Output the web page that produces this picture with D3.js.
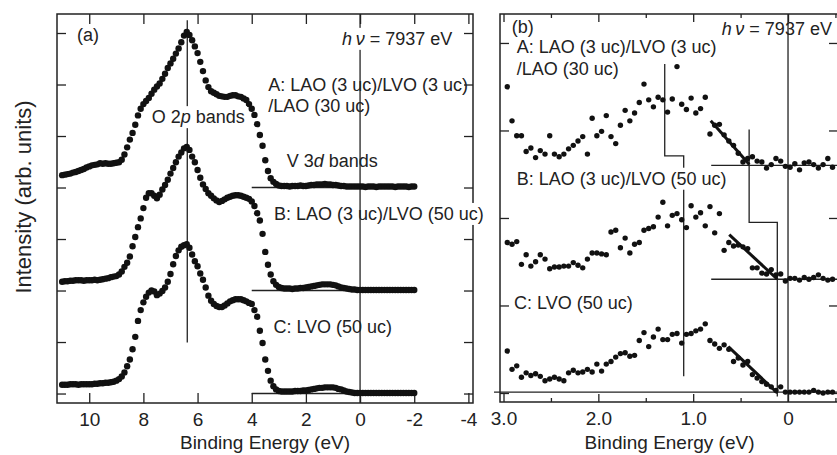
<!DOCTYPE html>
<html>
<head>
<meta charset="utf-8">
<script src="https://cdn.jsdelivr.net/npm/d3@7"></script>
<style>
body { margin: 0; background: #fff; }
text { font-family: "Liberation Sans", Arial, Helvetica, sans-serif; fill: #222; }
</style>
</head>
<body>
<script>
var width = 837, height = 455;

// ---- panel (a): wide valence band, 11.0 -> -2.0 eV, 0.1 eV steps ----
var wideStart = 11.0, wideStep = 0.1;
// A: LAO(3)/LVO(3)/LAO(30), drawn on top of offset 4
var wideA = [
  4.24,4.25,4.26,4.27,4.29,4.30,4.32,4.34,4.36,4.39,
  4.41,4.43,4.44,4.45,4.47,4.46,4.47,4.46,4.46,4.47,
  4.48,4.49,4.54,4.64,4.78,4.93,5.06,5.22,5.40,5.53,
  5.62,5.68,5.74,5.82,5.90,5.96,6.02,6.11,6.21,6.32,
  6.41,6.50,6.60,6.70,6.82,6.95,7.02,6.96,6.86,6.74,
  6.61,6.44,6.26,6.08,5.95,5.87,5.84,5.81,5.78,5.77,
  5.76,5.76,5.78,5.79,5.79,5.77,5.76,5.73,5.70,5.62,
  5.53,5.41,5.23,5.02,4.81,4.53,4.32,4.18,4.11,4.07,
  4.04,4.03,4.03,4.03,4.02,4.03,4.03,4.03,4.04,4.03,
  4.03,4.04,4.05,4.05,4.06,4.06,4.06,4.07,4.06,4.06,
  4.05,4.05,4.04,4.03,4.03,4.02,4.02,4.02,4.02,4.02,
  4.02,4.02,4.01,4.02,4.02,4.02,4.01,4.02,4.02,4.02,
  4.02,4.02,4.02,4.01,4.02,4.02,4.02,4.02,4.01,4.02,
  4.02
];
// B: LAO(3)/LVO(50), offset 2
var wideB = [
  2.17,2.18,2.18,2.19,2.19,2.20,2.20,2.20,2.19,2.20,
  2.20,2.20,2.21,2.20,2.21,2.22,2.23,2.24,2.26,2.27,
  2.28,2.31,2.37,2.46,2.54,2.66,2.86,3.04,3.23,3.40,
  3.60,3.80,3.89,3.89,3.84,3.79,3.86,3.96,4.05,4.15,
  4.27,4.38,4.49,4.60,4.68,4.76,4.79,4.73,4.60,4.49,
  4.34,4.19,4.06,3.97,3.89,3.84,3.79,3.75,3.72,3.74,
  3.77,3.80,3.82,3.84,3.85,3.85,3.84,3.82,3.80,3.78,
  3.73,3.64,3.50,3.36,3.10,2.75,2.50,2.31,2.18,2.11,
  2.07,2.05,2.04,2.04,2.04,2.03,2.04,2.04,2.05,2.05,
  2.06,2.07,2.08,2.09,2.10,2.11,2.12,2.12,2.12,2.12,
  2.11,2.10,2.08,2.06,2.05,2.04,2.03,2.02,2.02,2.01,
  2.01,2.01,2.01,2.01,2.01,2.01,2.01,2.01,2.01,2.01,
  2.01,2.01,2.01,2.01,2.01,2.01,2.01,2.01,2.01,2.01,
  2.01
];
// C: LVO(50), offset 0
var wideC = [
  0.17,0.17,0.17,0.18,0.18,0.18,0.17,0.18,0.18,0.18,
  0.18,0.18,0.19,0.19,0.20,0.20,0.21,0.21,0.22,0.23,
  0.25,0.28,0.33,0.41,0.53,0.66,0.86,1.10,1.41,1.62,
  1.77,1.88,1.96,2.00,1.98,1.91,1.94,1.99,2.06,2.17,
  2.32,2.51,2.67,2.78,2.85,2.88,2.90,2.83,2.70,2.57,
  2.47,2.33,2.21,2.06,1.90,1.80,1.74,1.70,1.68,1.68,
  1.71,1.75,1.79,1.81,1.83,1.83,1.83,1.81,1.79,1.76,
  1.74,1.62,1.49,1.22,0.98,0.66,0.44,0.25,0.14,0.08,
  0.05,0.04,0.04,0.04,0.04,0.04,0.05,0.05,0.05,0.06,
  0.06,0.07,0.08,0.09,0.10,0.11,0.11,0.12,0.12,0.12,
  0.12,0.11,0.09,0.08,0.06,0.04,0.03,0.02,0.01,0.01,
  0.01,0.01,0.01,0.01,0.01,0.01,0.01,0.01,0.01,0.01,
  0.01,0.01,0.01,0.01,0.01,0.01,0.01,0.01,0.01,0.01,
  0.01
];
var wideBaselines = [4, 2, 0];
var wideTicksX = [10, 8, 6, 4, 2, 0, -2, -4];
var wideTicksY = [0, 1, 2, 3, 4, 5, 6, 7];
var o2pEnergy = 6.38;

// ---- panel (b): near Fermi level, 70 points ----
var nearStart = 2.96, nearStep = 0.0497;
var nearA = [
  3.50,3.11,2.94,2.94,2.76,2.80,2.69,2.77,2.73,2.94,
  2.73,2.70,2.73,2.79,2.83,2.88,2.93,2.73,3.14,2.94,
  2.99,3.17,2.93,2.85,3.06,3.23,3.11,3.20,3.32,3.53,
  3.35,3.27,3.38,3.35,3.21,3.36,3.73,3.30,3.24,3.37,
  3.20,3.25,3.38,2.96,3.06,3.07,2.95,2.88,2.83,2.74,
  2.64,2.68,2.70,2.65,2.64,2.57,2.61,2.68,2.65,2.59,
  2.58,2.62,2.55,2.63,2.64,2.61,2.57,2.61,2.68,2.58
];
var nearB = [
  1.72,1.70,1.73,1.47,1.58,1.45,1.50,1.58,1.53,1.42,
  1.44,1.44,1.45,1.45,1.49,1.46,1.43,1.53,1.60,1.60,
  1.59,1.58,1.84,1.86,1.66,1.77,1.60,1.70,1.72,1.86,
  1.88,1.90,2.01,2.18,1.91,2.03,2.05,1.98,1.89,2.14,
  2.01,2.06,1.91,2.13,1.83,2.05,1.63,1.72,1.68,1.69,
  1.67,1.65,1.43,1.43,1.37,1.36,1.41,1.35,1.36,1.28,
  1.31,1.31,1.29,1.32,1.30,1.32,1.35,1.31,1.29,1.30
];
var nearC = [
  0.48,0.27,0.31,0.18,0.23,0.20,0.22,0.19,0.14,0.16,
  0.18,0.16,0.14,0.23,0.26,0.23,0.24,0.27,0.24,0.33,
  0.25,0.33,0.36,0.41,0.45,0.46,0.42,0.43,0.60,0.69,
  0.53,0.64,0.73,0.61,0.61,0.67,0.68,0.57,0.67,0.68,
  0.71,0.73,0.79,0.60,0.56,0.51,0.55,0.50,0.36,0.40,
  0.32,0.36,0.21,0.17,0.13,0.10,0.07,0.03,0.07,0.01,
  0.01,0.01,0.01,0.01,0.01,0.03,0.01,0.00,0.01,0.01
];
var nearTicksX = [3, 2, 1, 0];
var nearMinorX = [2.5, 1.5, 0.5, -0.5];
var nearTicksY = [0, 1, 2, 3, 4];
var nearBaselines = [[[0.81, 2.60], [-0.6, 2.60]], [[0.81, 1.30], [-0.6, 1.30]], [[3.1, 0.01], [-0.6, 0.01]]];
var peakStep = [[1.30, 3.76], [1.30, 2.71], [1.10, 2.71], [1.10, 0.19]];
var edgeStep = [[0.41, 3.01], [0.41, 1.95], [0.113, 1.95], [0.113, -0.04]];
var edgeFits = [[[0.815, 3.11], [0.408, 2.61]], [[0.62, 1.81], [0.113, 1.30]], [[0.63, 0.53], [0.113, 0.0]]];

var svg = d3.select("body").append("svg")
    .attr("width", width)
    .attr("height", height);

var ink = "#222";
var labelSize = 18;

function series(vals, start, step) {
  return vals.map(function(v, i) { return {e: start - step * i, v: v}; });
}

function label(g, x, y, parts, size, bg) {
  var t = g.append("text")
      .attr("x", x).attr("y", y)
      .style("font-size", size + "px");
  parts.forEach(function(p) {
    t.append("tspan").text(p[0]).style("font-style", p[1] ? "italic" : null);
  });
  if (bg) {
    var b = t.node().getBBox();
    g.insert("rect", function() { return t.node(); })
      .attr("x", b.x - 2).attr("y", b.y - 1)
      .attr("width", b.width + 4).attr("height", b.height + 2)
      .attr("fill", "#fff");
  }
  return t;
}

function frameAxes(g, x, y, major, minor, ylist, tickLen, fmt) {
  var h = y.range()[0], top = y.range()[1];
  var bottom = g.append("g").attr("transform", "translate(0," + h + ")")
      .call(d3.axisBottom(x).tickValues(major).tickSize(-tickLen).tickPadding(10).tickFormat(fmt));
  g.append("g").attr("transform", "translate(0," + top + ")")
      .call(d3.axisTop(x).tickValues(major).tickSize(-tickLen).tickFormat(""));
  if (minor) {
    g.append("g").attr("transform", "translate(0," + h + ")")
      .call(d3.axisBottom(x).tickValues(minor).tickSize(-4).tickFormat(""));
    g.append("g").attr("transform", "translate(0," + top + ")")
      .call(d3.axisTop(x).tickValues(minor).tickSize(-4).tickFormat(""));
  }
  g.append("g").attr("transform", "translate(" + x.range()[0] + ",0)")
      .call(d3.axisLeft(y).tickValues(ylist).tickSize(-9).tickFormat(""));
  g.append("g").attr("transform", "translate(" + x.range()[1] + ",0)")
      .call(d3.axisRight(y).tickValues(ylist).tickSize(-9).tickFormat(""));
  g.selectAll(".domain").remove();
  g.selectAll(".tick line").attr("stroke", ink).attr("stroke-width", 1.3);
  bottom.selectAll("text").attr("fill", ink).style("font-size", "19px")
      .style("font-family", '"Liberation Sans", Arial, sans-serif');
  g.append("rect")
    .attr("x", x.range()[0]).attr("y", top)
    .attr("width", x.range()[1] - x.range()[0]).attr("height", h - top)
    .attr("fill", "none").attr("stroke", ink).attr("stroke-width", 1.5);
}

var line = d3.line();

// ================= panel (a) =================
var xA = d3.scaleLinear().domain([11.19, -4.17]).range([57, 473]);
var yA = d3.scaleLinear().domain([-0.184, 7.369]).range([403, 14]);
var gA = svg.append("g");

frameAxes(gA, xA, yA, wideTicksX, null, wideTicksY, 10, function(d) { return String(d); });

wideBaselines.forEach(function(b) {
  gA.append("line")
    .attr("x1", xA(4)).attr("x2", xA(-2.05))
    .attr("y1", yA(b)).attr("y2", yA(b))
    .attr("stroke", ink).attr("stroke-width", 1.3);
});

label(gA, xA(3.18), yA(3.37), [["B: LAO (3 uc)/LVO (50 uc)"]], labelSize, true);

gA.append("line")
  .attr("x1", xA(0)).attr("x2", xA(0))
  .attr("y1", yA.range()[1]).attr("y2", yA.range()[0])
  .attr("stroke", ink).attr("stroke-width", 1.3);
gA.append("line")
  .attr("x1", xA(o2pEnergy)).attr("x2", xA(o2pEnergy))
  .attr("y1", yA(7.25)).attr("y2", yA(0.99))
  .attr("stroke", ink).attr("stroke-width", 1.3);

[wideA, wideB, wideC].forEach(function(vals) {
  gA.append("g").selectAll("circle")
    .data(series(vals, wideStart, wideStep))
    .enter().append("circle")
    .attr("cx", function(d) { return xA(d.e); })
    .attr("cy", function(d) { return yA(d.v); })
    .attr("r", 3.2)
    .attr("fill", "#111");
});

label(gA, xA(10.45), yA(6.84), [["(a)"]], labelSize);
label(gA, xA(0.665), yA(6.77), [["h\u2009\u03bd", true], [" = 7937 eV"]], labelSize, true);
label(gA, xA(3.39), yA(5.88), [["A: LAO (3 uc)/LVO (3 uc)"]], labelSize);
label(gA, xA(3.39), yA(5.47), [["/LAO (30 uc)"]], labelSize);
label(gA, xA(2.71), yA(4.40), [["V 3"], ["d", true], [" bands"]], labelSize);
label(gA, xA(7.69), yA(5.25), [["O 2"], ["p", true], [" bands"]], labelSize, true);
label(gA, xA(3.20), yA(1.17), [["C: LVO (50 uc)"]], labelSize);

gA.append("text")
  .attr("x", (xA.range()[0] + xA.range()[1]) / 2).attr("y", 449)
  .attr("text-anchor", "middle").style("font-size", "19px")
  .text("Binding Energy (eV)");
gA.append("text")
  .attr("transform", "translate(31,197) rotate(-90)")
  .attr("text-anchor", "middle").style("font-size", "22px")
  .text("Intensity (arb. units)");

// ================= panel (b) =================
var xB = d3.scaleLinear().domain([3.037, -0.527]).range([500, 838]);
var yB = d3.scaleLinear().domain([-0.103, 4.331]).range([402, 14]);
var gB = svg.append("g");

frameAxes(gB, xB, yB, nearTicksX, nearMinorX, nearTicksY, 8,
  function(d) { return d === 0 ? "0" : d3.format(".1f")(d); });

nearBaselines.forEach(function(seg) {
  gB.append("path")
    .attr("d", line(seg.map(function(p) { return [xB(p[0]), yB(p[1])]; })))
    .attr("fill", "none").attr("stroke", ink).attr("stroke-width", 1.3);
});
gB.append("line")
  .attr("x1", xB(0)).attr("x2", xB(0))
  .attr("y1", yB.range()[1]).attr("y2", yB.range()[0])
  .attr("stroke", ink).attr("stroke-width", 1.3);
[peakStep, edgeStep].forEach(function(seg) {
  gB.append("path")
    .attr("d", line(seg.map(function(p) { return [xB(p[0]), yB(p[1])]; })))
    .attr("fill", "none").attr("stroke", ink).attr("stroke-width", 1.3);
});

label(gB, xB(2.861), yB(2.38), [["B: LAO (3 uc)/LVO (50 uc)"]], labelSize, true);

[nearA, nearB, nearC].forEach(function(vals) {
  gB.append("g").selectAll("circle")
    .data(series(vals, nearStart, nearStep))
    .enter().append("circle")
    .attr("cx", function(d) { return xB(d.e); })
    .attr("cy", function(d) { return yB(d.v); })
    .attr("r", 2.7)
    .attr("fill", "#111");
});

edgeFits.forEach(function(seg) {
  gB.append("path")
    .attr("d", line(seg.map(function(p) { return [xB(p[0]), yB(p[1])]; })))
    .attr("fill", "none").attr("stroke", "#111").attr("stroke-width", 3);
});

label(gB, xB(2.914), yB(4.11), [["(b)"]], labelSize);
label(gB, xB(0.699), yB(4.09), [["h\u2009\u03bd", true], [" = 7937 eV"]], labelSize);
label(gB, xB(2.861), yB(3.88), [["A: LAO (3 uc)/LVO (3 uc)"]], labelSize);
label(gB, xB(2.861), yB(3.63), [["/LAO (30 uc)"]], labelSize);
label(gB, xB(2.889), yB(0.957), [["C: LVO (50 uc)"]], labelSize);

gB.append("text")
  .attr("x", 669.5).attr("y", 449)
  .attr("text-anchor", "middle").style("font-size", "19px")
  .text("Binding Energy (eV)");
</script>
</body>
</html>
